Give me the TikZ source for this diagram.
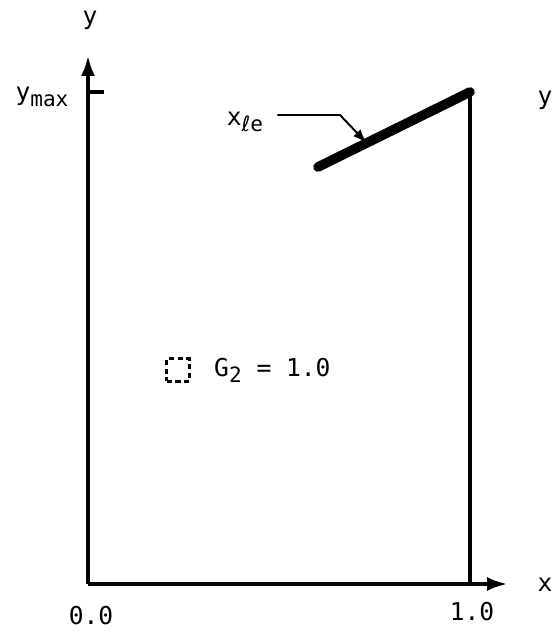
\documentclass[tikz,border=0pt]{standalone}
\usepackage{fontspec}
\setmainfont{DejaVu Sans Mono}
\newfontfamily\symfont{DejaVu Sans}
\usepackage{tikz}
\usetikzlibrary{arrows.meta,positioning,calc}

\newcommand{\lowsub}[1]{\raisebox{-0.45ex}{\fontsize{12}{12}\selectfont #1}}

\begin{document}
\begin{tikzpicture}[x=0.02cm,y=0.02cm,font=\fontsize{14}{16}\selectfont,
  axis/.style={line width=2.4pt,-{Latex[length=0.42cm,width=0.28cm]}},
  edge/.style={line width=2pt},
  lead/.style={line width=1.1pt,-{Latex[length=0.28cm,width=0.2cm]}}]
  \useasboundingbox (-88,-49) rectangle (464,584);
  \def\Xone{382} % x = 1.0
  \def\Ymax{492} % y = y_max
  \coordinate (O) at (0,0);
  \coordinate (xtip) at (420,0);
  \coordinate (ytip) at (0,529);
  \coordinate (ymaxtick) at (0,\Ymax);
  \coordinate (corner) at (\Xone,\Ymax);
  \coordinate (foot) at (\Xone,0);
  \coordinate (lestart) at (230,417); % start of x_le segment
  \draw[axis] (O) -- (xtip); % x axis
  \draw[axis] (O) -- (ytip); % y axis
  \draw[edge] (ymaxtick) -- ++(16,0);
  \draw[edge] (foot) -- (corner); % right edge x = 1.0
  \draw[line width=5.5pt,line cap=round] (lestart) -- (corner);
  % labels
  \node (ylab) at (2,564) {y};
  \node (ymaxlab) at (-46,487) {y\lowsub{max}};
  \node (yright) at (457,484) {y};
  \node (xlab) at (457,-1) {x};
  \node (zero) at (3,-32) {0.0};
  \node (one) at (384,-28) {1.0};
  \node (lelab) at (157,462) {x\lowsub{{\symfont ℓ}e}};
  \coordinate (bend) at (252,469);
  \coordinate (hit) at ($(lestart)!0.32!(corner)$);
  \draw[lead] (lelab.east |- bend) ++(8,0) -- (bend) -- (hit);
  \node[draw,dash pattern=on 3pt off 2pt,line width=1.5pt,minimum size=0.46cm,inner sep=0pt] (legbox) at (90,214) {};
  \node[anchor=west] (gtwo) at (120,214) {G\lowsub{2} = 1.0};
\end{tikzpicture}
\end{document}
